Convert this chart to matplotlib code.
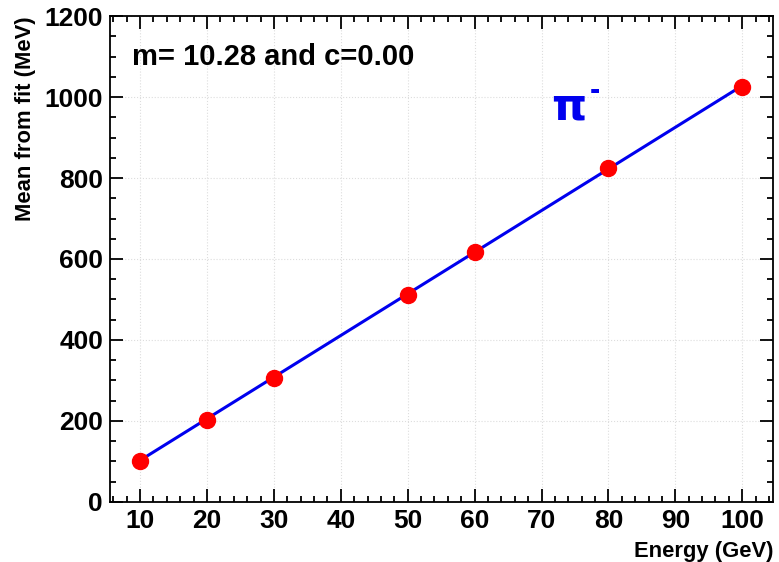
import matplotlib
matplotlib.use("Agg")
import matplotlib.pyplot as plt
from matplotlib.ticker import MultipleLocator

# data
energy = [10, 20, 30, 50, 60, 80, 100]
mean_fit = [101, 202, 306, 511, 617, 825, 1025]
slope = 10.28
intercept = 0.00

plt.rcParams['font.family'] = ['Liberation Sans', 'DejaVu Sans']
plt.rcParams['font.weight'] = 'bold'

fig = plt.figure(figsize=(7.79, 5.62), dpi=100)
ax = fig.add_axes([0.1412, 0.1068, 0.8511, 0.8647])

fit_x = [energy[0], energy[-1]]
fit_y = [slope * e + intercept for e in fit_x]
ax.plot(fit_x, fit_y, color='#0000ee', lw=2.2, zorder=3)
ax.plot(energy, mean_fit, 'o', color='#ff0000', ms=11.5, mec='#ff0000', zorder=4)

ax.set_xlim(5.5, 104.6)
ax.set_ylim(0, 1200)
ax.xaxis.set_major_locator(MultipleLocator(10))
ax.xaxis.set_minor_locator(MultipleLocator(2))
ax.yaxis.set_major_locator(MultipleLocator(200))
ax.yaxis.set_minor_locator(MultipleLocator(50))
ax.set_xticks(range(10, 101, 10))

ax.tick_params(which='both', direction='in', top=True, right=True, width=1.3)
ax.tick_params(which='major', length=9.5, labelsize=19, pad=5)
ax.tick_params(which='minor', length=4.5)
for lab in ax.get_xticklabels() + ax.get_yticklabels():
    lab.set_fontweight('bold')
for sp in ax.spines.values():
    sp.set_linewidth(1.3)

ax.grid(True, which='major', color='#dddddd', ls=':', lw=0.8)

ax.set_xlabel('Energy (GeV)', fontsize=15.8, fontweight='bold', loc='right', labelpad=6)
ax.set_ylabel('Mean from fit (MeV)', fontsize=15.8, fontweight='bold', loc='top', labelpad=6)

ax.text(0.033, 0.915, 'm= %.2f and c=%.2f' % (slope, intercept), transform=ax.transAxes,
        fontsize=21, fontweight='bold', va='center', ha='left')
ax.text(0.665, 0.812, 'π', transform=ax.transAxes, fontsize=32, fontweight='bold',
        color='#0000ee', family=['DejaVu Sans'], va='center', ha='left')
ax.text(0.724, 0.846, '-', transform=ax.transAxes, fontsize=22, fontweight='bold',
        color='#0000ee', va='center', ha='left')

fig.savefig('out.png', dpi=100)
